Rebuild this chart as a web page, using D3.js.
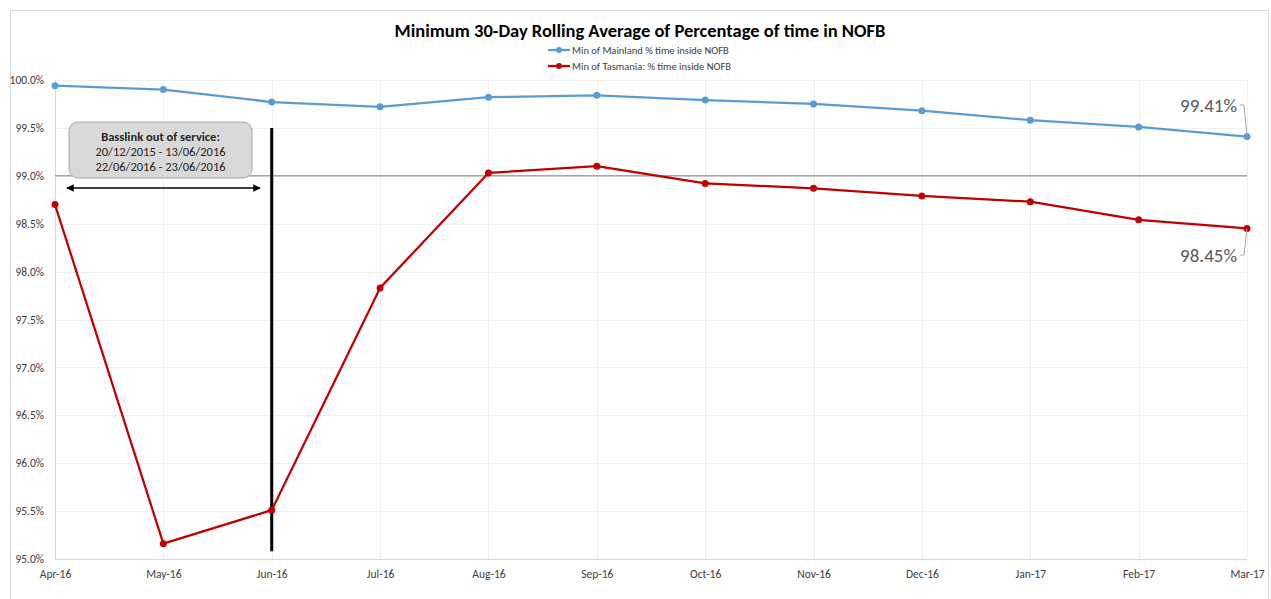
<!DOCTYPE html>
<html>
<head>
<meta charset="utf-8">
<script src="https://cdn.jsdelivr.net/npm/d3@7"></script>
<style>
  body { margin: 0; background: #fff; }
  svg { display: block; font-family: Calibri, Carlito, "Liberation Sans", "Open Sans", sans-serif; }
</style>
</head>
<body>
<div id="chart"></div>
<script>
// Data
var months = ["Apr-16", "May-16", "Jun-16", "Jul-16", "Aug-16", "Sep-16", "Oct-16", "Nov-16", "Dec-16", "Jan-17", "Feb-17", "Mar-17"];
var mainland = [99.94, 99.90, 99.77, 99.72, 99.82, 99.84, 99.79, 99.75, 99.68, 99.58, 99.51, 99.41];
var tasmania = [98.70, 95.16, 95.51, 97.83, 99.03, 99.10, 98.92, 98.87, 98.79, 98.73, 98.54, 98.45];
var yTicks = [95.0, 95.5, 96.0, 96.5, 97.0, 97.5, 98.0, 98.5, 99.0, 99.5, 100.0];
var threshold = 99.0;
var seriesNames = ["Min of Mainland % time inside NOFB", "Min of Tasmania: % time inside NOFB"];
var seriesColors = ["#5b9bd5", "#c00000"];
var noteLines = ["Basslink out of service:", "20/12/2015 - 13/06/2016", "22/06/2016 - 23/06/2016"];

var width = 1271, height = 599;
var margin = { left: 55, right: 24, top: 80, bottom: 40 };

var svg = d3.select('#chart')
    .append('svg')
    .attr('width', width)
    .attr('height', height);

// Chart frame
svg.append('rect')
    .attr('x', 10.5).attr('y', 10.5)
    .attr('width', 1258).attr('height', 600)
    .attr('fill', 'none')
    .attr('stroke', '#d9d9d9');

var x = d3.scalePoint()
    .domain(months)
    .range([margin.left, width - margin.right]);

var y = d3.scaleLinear()
    .domain([95, 100])
    .range([height - margin.bottom, margin.top]);

// Gridlines
svg.append('g')
    .selectAll('line')
    .data(yTicks)
    .enter().append('line')
    .attr('x1', x.range()[0]).attr('x2', x.range()[1])
    .attr('y1', function(d){ return Math.round(y(d)) + 0.5; })
    .attr('y2', function(d){ return Math.round(y(d)) + 0.5; })
    .attr('stroke', function(d){ return d == 95 ? '#d9d9d9' : '#efefef'; });

svg.append('g')
    .selectAll('line')
    .data(months)
    .enter().append('line')
    .attr('x1', function(d){ return Math.round(x(d)) + 0.5; })
    .attr('x2', function(d){ return Math.round(x(d)) + 0.5; })
    .attr('y1', y(100)).attr('y2', y(95))
    .attr('stroke', function(d, i){ return i == 0 ? '#d9d9d9' : '#efefef'; });

// Y axis
var yAxis = svg.append('g')
    .attr('transform', 'translate(' + (margin.left - 8) + ',0)')
    .call(d3.axisLeft(y).tickValues(yTicks).tickSize(0).tickFormat(function(d){ return d.toFixed(1) + '%'; }));
yAxis.select('.domain').remove();
yAxis.selectAll('text')
    .attr('font-size', 11.5)
    .attr('fill', '#404040')
    .attr('font-family', 'Calibri, Carlito, "Liberation Sans", sans-serif');

// X axis
var xAxis = svg.append('g')
    .attr('transform', 'translate(0,' + (y(95) + 8) + ')')
    .call(d3.axisBottom(x).tickSize(0));
xAxis.select('.domain').remove();
xAxis.selectAll('text')
    .attr('font-size', 11.5)
    .attr('fill', '#404040')
    .attr('font-family', 'Calibri, Carlito, "Liberation Sans", sans-serif');

// 99% threshold line
svg.append('line')
    .attr('x1', x.range()[0]).attr('x2', x.range()[1])
    .attr('y1', y(threshold)).attr('y2', y(threshold))
    .attr('stroke', '#a6a6a6')
    .attr('stroke-width', 1.5);

// Basslink marker
svg.append('line')
    .attr('x1', x('Jun-16')).attr('x2', x('Jun-16'))
    .attr('y1', y(99.5)).attr('y2', y(95.08))
    .attr('stroke', '#000')
    .attr('stroke-width', 3);

// Series lines
var line = d3.line()
    .x(function(d, i){ return x(months[i]); })
    .y(function(d){ return y(d); });

[mainland, tasmania].forEach(function(series, k){
    svg.append('path')
        .datum(series)
        .attr('d', line)
        .attr('fill', 'none')
        .attr('stroke', seriesColors[k])
        .attr('stroke-width', 2.25)
        .attr('stroke-linejoin', 'round');
    svg.append('g')
        .selectAll('circle')
        .data(series)
        .enter().append('circle')
        .attr('cx', function(d, i){ return x(months[i]); })
        .attr('cy', function(d){ return y(d); })
        .attr('r', 3.5)
        .attr('fill', seriesColors[k]);
});

// Annotation box
var boxX = 69, boxY = 122, boxW = 183, boxH = 56;
svg.append('rect')
    .attr('x', boxX).attr('y', boxY)
    .attr('width', boxW).attr('height', boxH)
    .attr('rx', 9)
    .attr('fill', '#d9d9d9')
    .attr('stroke', '#a6a6a6');
svg.append('g')
    .selectAll('text')
    .data(noteLines)
    .enter().append('text')
    .attr('x', boxX + boxW / 2)
    .attr('y', function(d, i){ return boxY + 19 + i * 15; })
    .attr('text-anchor', 'middle')
    .attr('font-size', 12.5)
    .attr('font-weight', function(d, i){ return i == 0 ? 'bold' : 'normal'; })
    .attr('fill', '#262626')
    .text(function(d){ return d; });

// Double arrow
svg.append('defs').append('marker')
    .attr('id', 'arr')
    .attr('viewBox', '0 0 10 10')
    .attr('refX', 9).attr('refY', 5)
    .attr('markerWidth', 5).attr('markerHeight', 5)
    .attr('orient', 'auto-start-reverse')
    .append('path')
    .attr('d', 'M0,0 L10,5 L0,10 Z')
    .attr('fill', '#000');
svg.append('line')
    .attr('x1', 67).attr('x2', 260)
    .attr('y1', 188).attr('y2', 188)
    .attr('stroke', '#000')
    .attr('stroke-width', 1.5)
    .attr('marker-start', 'url(#arr)')
    .attr('marker-end', 'url(#arr)');

// End labels with leader lines
var lastX = x(months[months.length - 1]);
var endLabels = [
    { value: mainland[mainland.length - 1], ly: 105 },
    { value: tasmania[tasmania.length - 1], ly: 255 }
];
endLabels.forEach(function(d){
    svg.append('text')
        .attr('x', lastX - 10)
        .attr('y', d.ly)
        .attr('dy', '0.35em')
        .attr('text-anchor', 'end')
        .attr('font-size', 19)
        .attr('fill', '#595959')
        .text(d.value.toFixed(2) + '%');
    svg.append('path')
        .attr('d', 'M' + (lastX - 7) + ',' + d.ly + ' L' + (lastX - 3) + ',' + d.ly + ' L' + lastX + ',' + y(d.value))
        .attr('fill', 'none')
        .attr('stroke', '#a6a6a6');
});

// Title
svg.append('text')
    .attr('x', 640).attr('y', 37)
    .attr('text-anchor', 'middle')
    .attr('font-size', 18.5)
    .attr('font-weight', 'bold')
    .attr('fill', '#000')
    .text('Minimum 30-Day Rolling Average of Percentage of time in NOFB');

// Legend
var legend = svg.append('g')
    .selectAll('g')
    .data(seriesNames)
    .enter().append('g')
    .attr('transform', function(d, i){ return 'translate(548,' + (50 + i * 16) + ')'; });
legend.append('line')
    .attr('x1', 0).attr('x2', 22)
    .attr('stroke', function(d, i){ return seriesColors[i]; })
    .attr('stroke-width', 2.25);
legend.append('circle')
    .attr('cx', 11).attr('r', 3)
    .attr('fill', function(d, i){ return seriesColors[i]; });
legend.append('text')
    .attr('x', 24)
    .attr('dy', '0.35em')
    .attr('font-size', 10.5)
    .attr('fill', '#404040')
    .text(function(d){ return d; });
</script>
</body>
</html>
